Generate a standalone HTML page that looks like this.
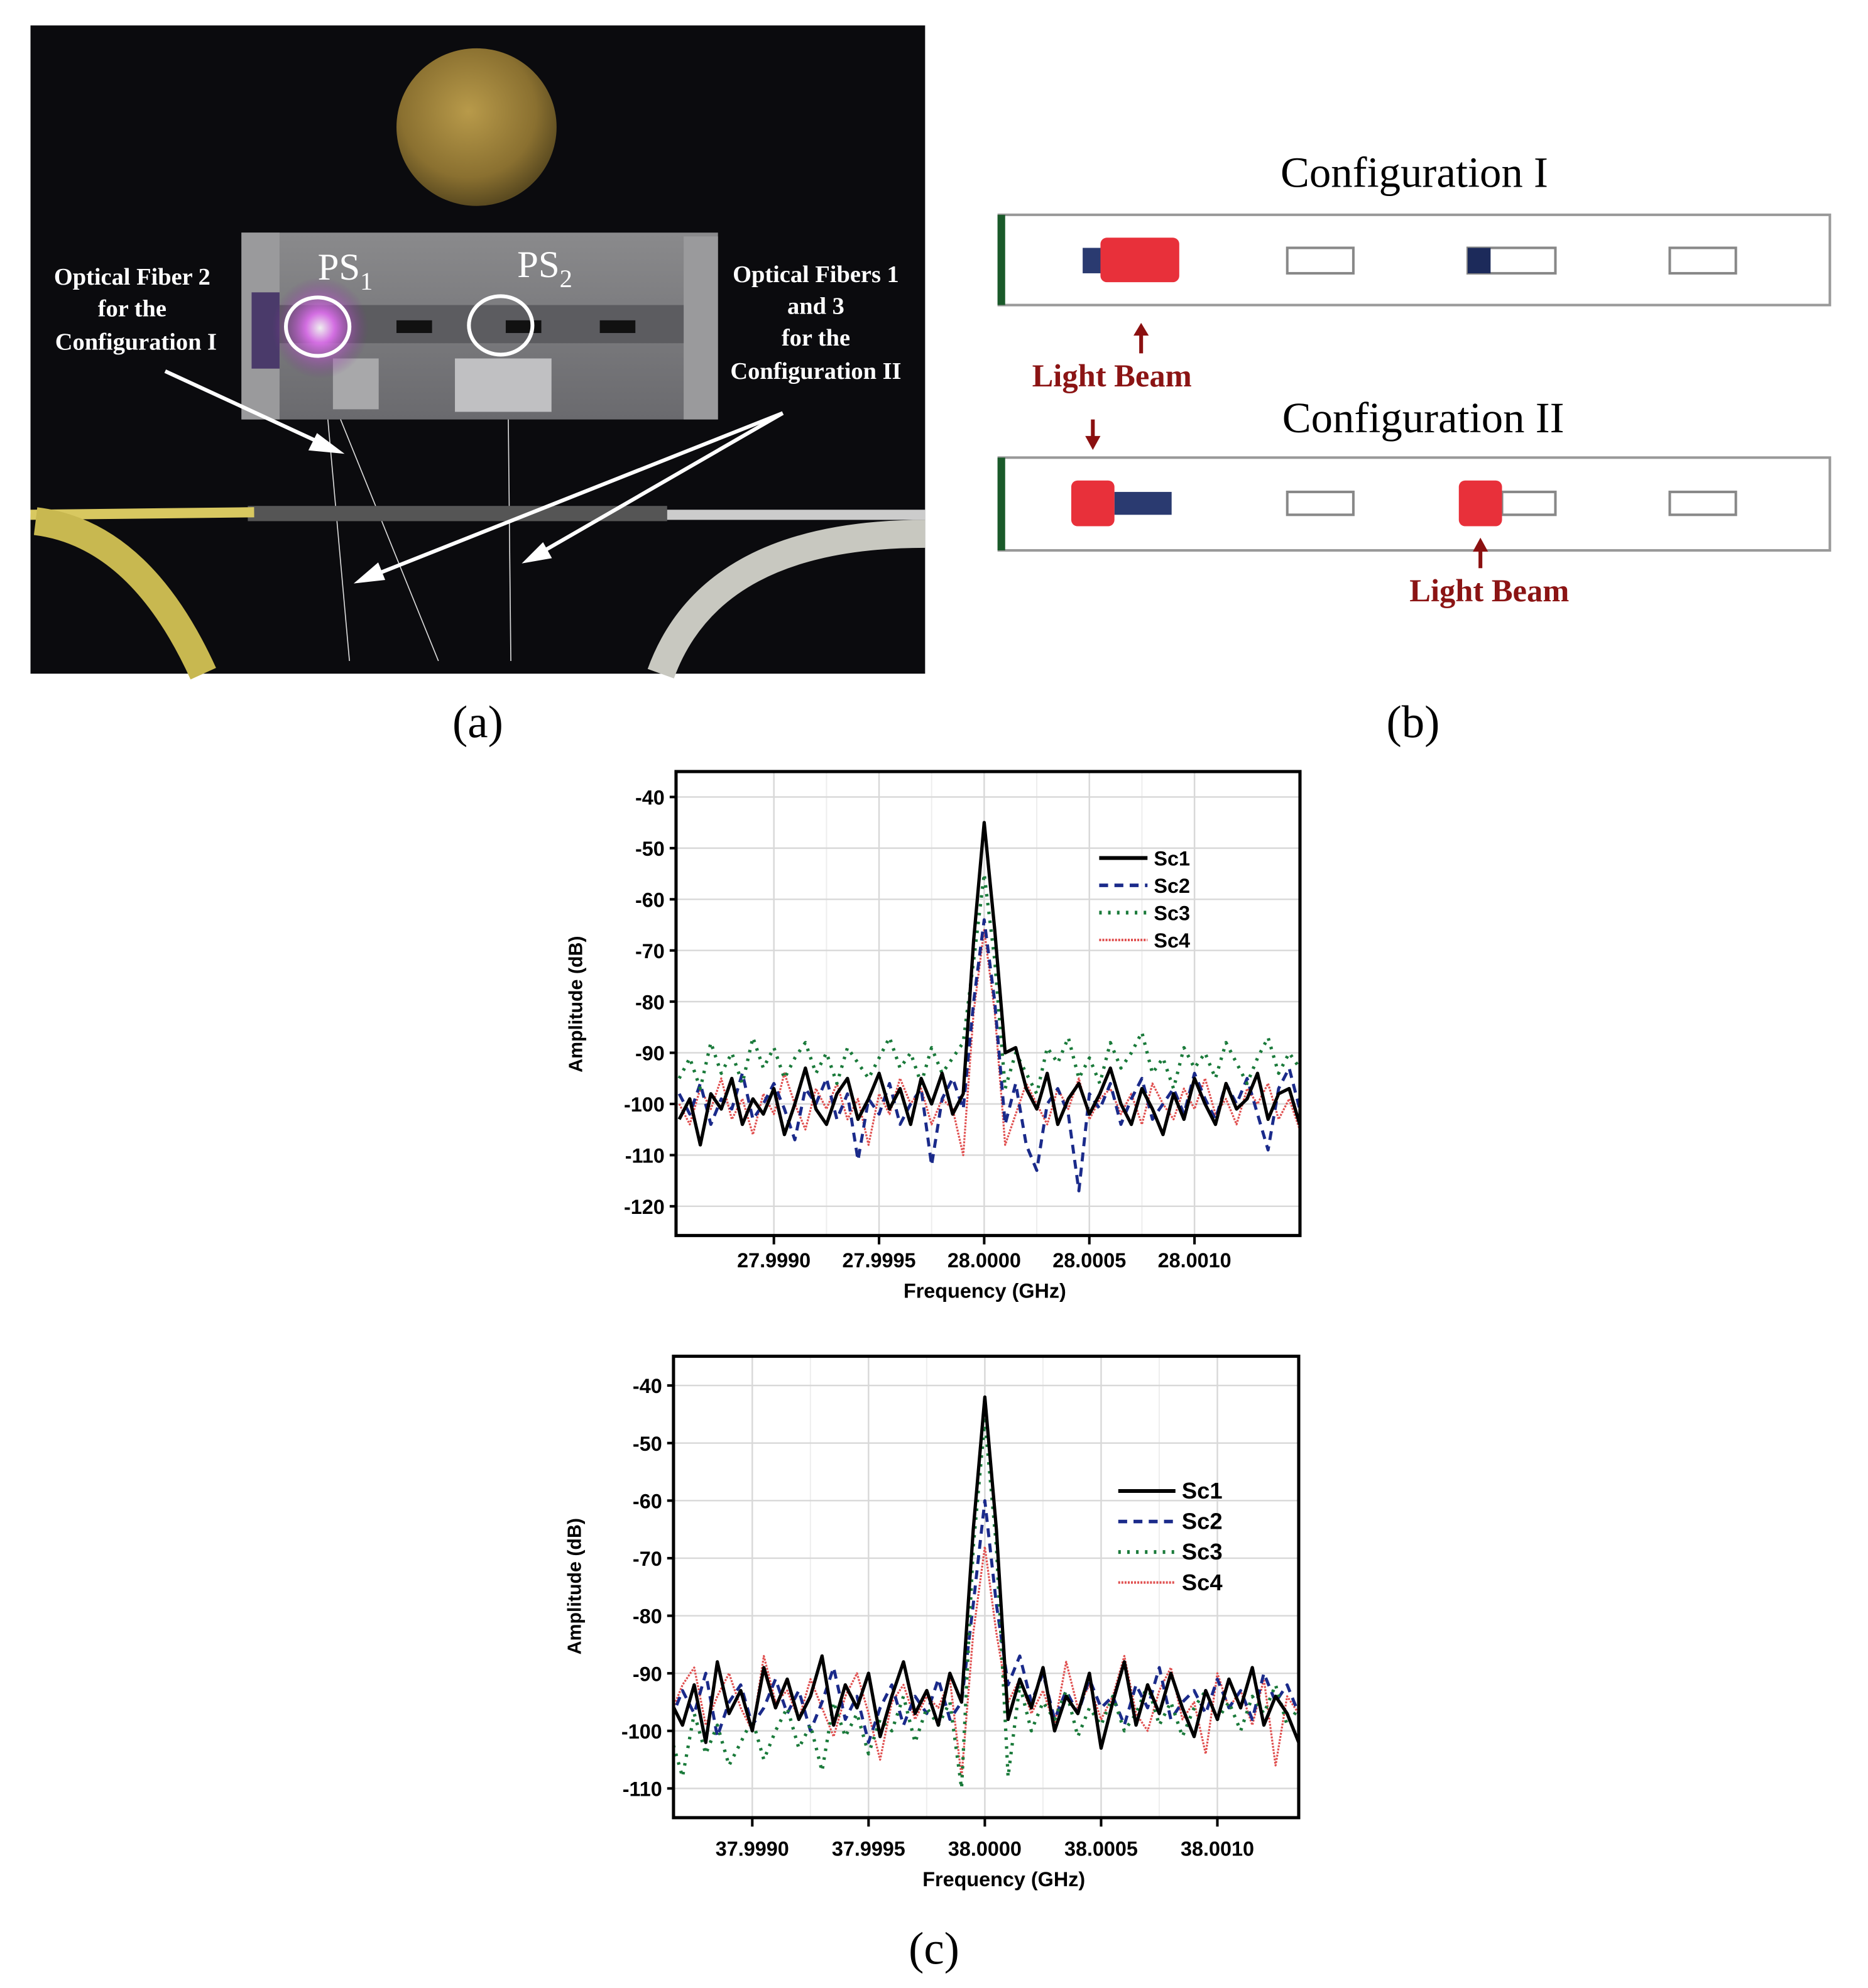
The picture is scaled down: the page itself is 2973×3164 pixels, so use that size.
<!DOCTYPE html>
<html><head><meta charset="utf-8"><style>
html,body{margin:0;padding:0;background:#fff;}
svg{display:block;}
</style></head><body>
<svg id="fig" width="2973" height="3164" viewBox="0 0 1470 1564" preserveAspectRatio="none" xmlns="http://www.w3.org/2000/svg">
<defs>
<radialGradient id="coin" cx="0.45" cy="0.4" r="0.6"><stop offset="0" stop-color="#b89a4a"/><stop offset="0.7" stop-color="#8a7030"/><stop offset="1" stop-color="#5a4a20"/></radialGradient>
<radialGradient id="glow" cx="0.5" cy="0.5" r="0.5"><stop offset="0" stop-color="#fff"/><stop offset="0.3" stop-color="#e070f0"/><stop offset="1" stop-color="#7a2a90" stop-opacity="0"/></radialGradient>
<linearGradient id="plate" x1="0" y1="0" x2="0" y2="1"><stop offset="0" stop-color="#8a8a8c"/><stop offset="1" stop-color="#6a6a6e"/></linearGradient>
<clipPath id="clip1"><rect x="532" y="607" width="491" height="368"/></clipPath>
<clipPath id="clip2"><rect x="530" y="1067" width="492" height="363"/></clipPath>
</defs>

<g>
<rect x="24" y="20" width="704" height="510" fill="#0b0b0e"/>
<ellipse cx="375" cy="100" rx="63" ry="62" fill="url(#coin)"/>
<rect x="190" y="183" width="375" height="147" fill="url(#plate)"/>
<rect x="190" y="183" width="30" height="147" fill="#9a9a9c"/>
<rect x="538" y="186" width="27" height="144" fill="#9a9a9c"/>
<rect x="220" y="240" width="318" height="30" fill="#5c5c60"/>
<rect x="312" y="252" width="28" height="10" fill="#111"/>
<rect x="398" y="252" width="28" height="10" fill="#111"/>
<rect x="472" y="252" width="28" height="10" fill="#111"/>
<rect x="262" y="282" width="36" height="40" fill="#a8a8aa"/>
<rect x="358" y="282" width="76" height="42" fill="#c0c0c2"/>
<rect x="198" y="230" width="22" height="60" fill="#4a3a6a"/>
<ellipse cx="252" cy="258" rx="38" ry="40" fill="url(#glow)" opacity="0.9"/>
<ellipse cx="250" cy="257" rx="25" ry="23" fill="none" stroke="#fff" stroke-width="3"/>
<ellipse cx="394" cy="256" rx="25" ry="23" fill="none" stroke="#fff" stroke-width="3"/>
<text x="250" y="220" font-family="Liberation Serif, serif" font-size="30" fill="#fff">PS<tspan font-size="20" dy="8">1</tspan></text>
<text x="407" y="218" font-family="Liberation Serif, serif" font-size="30" fill="#fff">PS<tspan font-size="20" dy="8">2</tspan></text>
<g font-family="Liberation Serif, serif" font-weight="bold" font-size="19" fill="#fff" text-anchor="middle">
<text x="104" y="224">Optical Fiber 2</text>
<text x="104" y="249">for the</text>
<text x="107" y="275">Configuration I</text>
<text x="642" y="222">Optical Fibers 1</text>
<text x="642" y="247">and 3</text>
<text x="642" y="272">for the</text>
<text x="642" y="298">Configuration II</text>
</g>
<g stroke="#ddd" stroke-width="0.8" fill="none">
<path d="M258 330 L275 520"/><path d="M268 330 L345 520"/><path d="M400 330 L402 520"/>
</g>
<rect x="195" y="398" width="330" height="12" fill="#555"/>
<path d="M24 405 L200 403" stroke="#d8c860" stroke-width="8"/>
<path d="M525 405 L728 405" stroke="#ccc" stroke-width="8"/>
<path d="M28 410 Q110 420 160 530" stroke="#c8b850" stroke-width="22" fill="none"/>
<path d="M728 420 Q560 420 520 530" stroke="#c8c8c0" stroke-width="22" fill="none"/>
<g stroke="#fff" stroke-width="3" fill="#fff">
<path d="M130 292 L260 352"/><path d="M266 355 L250 343 L245 353Z"/>
<path d="M616 325 L288 455"/><path d="M283 457 L297 445 L301 455Z"/>
<path d="M616 325 L420 438"/><path d="M415 441 L427 429 L432 438Z"/>
</g>
</g>
<text x="376" y="580" text-anchor="middle" font-family="Liberation Serif, serif" font-size="36">(a)</text>

<g font-family="Liberation Serif, serif">
<text x="1113" y="147" text-anchor="middle" font-size="34">Configuration I</text>
<rect x="786" y="169" width="654" height="71" fill="#fff" stroke="#999" stroke-width="2"/>
<rect x="785" y="169" width="6" height="71" fill="#1a5a2a"/>
<rect x="852" y="195" width="18" height="20" fill="#2a3a70"/>
<rect x="866" y="187" width="62" height="35" rx="5" fill="#e8303a"/>
<rect x="1013" y="195" width="52" height="20" fill="#fff" stroke="#888" stroke-width="2"/>
<rect x="1155" y="195" width="69" height="20" fill="#fff" stroke="#888" stroke-width="2"/>
<rect x="1155" y="195" width="18" height="20" fill="#1c2a5a"/>
<rect x="1314" y="195" width="52" height="20" fill="#fff" stroke="#888" stroke-width="2"/>
<path d="M898 278 L898 262" stroke="#8b1010" stroke-width="3"/><path d="M892 264 L898 254 L904 264Z" fill="#8b1010"/>
<text x="875" y="304" text-anchor="middle" font-size="25" font-weight="bold" fill="#8b1414">Light Beam</text>
<text x="1120" y="340" text-anchor="middle" font-size="34">Configuration II</text>
<path d="M860 330 L860 345" stroke="#8b1010" stroke-width="3"/><path d="M854 343 L860 354 L866 343Z" fill="#8b1010"/>
<rect x="786" y="360" width="654" height="73" fill="#fff" stroke="#999" stroke-width="2"/>
<rect x="785" y="360" width="6" height="73" fill="#1a5a2a"/>
<rect x="877" y="387" width="45" height="18" fill="#2a3a70"/>
<rect x="843" y="378" width="34" height="36" rx="5" fill="#e8303a"/>
<rect x="1013" y="387" width="52" height="18" fill="#fff" stroke="#888" stroke-width="2"/>
<rect x="1182" y="387" width="42" height="18" fill="#fff" stroke="#888" stroke-width="2"/>
<rect x="1148" y="378" width="34" height="36" rx="5" fill="#e8303a"/>
<rect x="1314" y="387" width="52" height="18" fill="#fff" stroke="#888" stroke-width="2"/>
<path d="M1165 447 L1165 432" stroke="#8b1010" stroke-width="3"/><path d="M1159 434 L1165 423 L1171 434Z" fill="#8b1010"/>
<text x="1172" y="473" text-anchor="middle" font-size="25" font-weight="bold" fill="#8b1414">Light Beam</text>
</g>
<text x="1112" y="580" text-anchor="middle" font-family="Liberation Serif, serif" font-size="36">(b)</text>
<text x="735" y="1545" text-anchor="middle" font-family="Liberation Serif, serif" font-size="36">(c)</text>

<g id="chart1"></g>
<g id="chart2"></g>
</svg>
<script>
// Chart 1: 28 GHz (offsets in kHz from 28.0000 GHz)
const c1Start = -1450, c1Step = 50;
const c1Sc1 = [-103,-99,-108,-98,-101,-95,-104,-99,-102,-97,-106,-100,-93,-101,-104,-98,-95,-103,-99,-94,-101,-97,-104,-95,-100,-94,-102,-98,-68,-45,-66,-90,-89,-97,-101,-94,-104,-99,-96,-102,-98,-93,-100,-104,-97,-101,-106,-98,-103,-95,-100,-104,-96,-101,-99,-94,-103,-98,-97,-104,-100,-102];
const c1Sc2 = [-98,-102,-96,-104,-99,-101,-94,-103,-100,-96,-101,-107,-97,-100,-95,-103,-98,-111,-99,-102,-96,-104,-100,-97,-112,-99,-95,-101,-80,-64,-80,-104,-96,-108,-113,-100,-97,-102,-117,-98,-101,-96,-104,-99,-95,-103,-100,-97,-102,-94,-99,-103,-96,-100,-95,-102,-109,-97,-93,-101,-98,-96];
const c1Sc3 = [-95,-91,-97,-88,-94,-90,-96,-87,-93,-89,-95,-91,-88,-94,-90,-96,-89,-92,-95,-91,-87,-93,-90,-96,-89,-94,-91,-88,-72,-55,-72,-97,-90,-94,-98,-89,-92,-87,-95,-91,-96,-88,-93,-90,-86,-94,-91,-97,-89,-93,-90,-95,-88,-92,-96,-91,-87,-94,-90,-93,-89,-84];
const c1Sc4 = [-100,-104,-97,-101,-95,-103,-99,-106,-98,-102,-94,-100,-105,-97,-101,-96,-103,-99,-108,-98,-102,-95,-100,-97,-104,-99,-101,-110,-82,-66,-82,-108,-102,-96,-100,-104,-97,-101,-95,-103,-99,-97,-102,-98,-104,-96,-100,-103,-97,-101,-95,-102,-99,-104,-97,-100,-96,-103,-99,-105,-98,-100];
const c1YTicks = [-40,-50,-60,-70,-80,-90,-100,-110,-120];
const c1XTicks = [-1000,-500,0,500,1000];
const c1XLabels = ["27.9990","27.9995","28.0000","28.0005","28.0010"];
// Chart 2: 38 GHz
const c2Start = -1350, c2Step = 50;
const c2Sc1 = [-95,-99,-92,-102,-88,-97,-93,-100,-89,-96,-91,-98,-94,-87,-99,-92,-96,-90,-101,-94,-88,-97,-93,-99,-90,-95,-65,-42,-65,-98,-91,-96,-89,-100,-94,-97,-90,-103,-95,-88,-99,-92,-97,-90,-96,-101,-93,-98,-91,-96,-89,-99,-94,-97,-102];
const c2Sc2 = [-98,-93,-97,-90,-101,-95,-92,-99,-96,-91,-97,-93,-100,-95,-89,-98,-94,-102,-96,-92,-99,-94,-97,-91,-98,-95,-78,-60,-78,-92,-87,-95,-90,-98,-93,-97,-91,-96,-94,-99,-92,-96,-89,-98,-95,-93,-97,-91,-96,-93,-98,-90,-95,-92,-97];
const c2Sc3 = [-101,-108,-97,-104,-99,-106,-102,-98,-105,-100,-96,-103,-99,-107,-95,-101,-97,-104,-98,-100,-94,-102,-96,-99,-95,-110,-68,-46,-68,-108,-92,-100,-95,-98,-93,-101,-96,-99,-94,-100,-97,-92,-99,-95,-101,-96,-93,-98,-95,-100,-94,-97,-92,-99,-96];
const c2Sc4 = [-97,-92,-89,-99,-94,-90,-96,-100,-87,-95,-93,-98,-91,-96,-101,-94,-90,-97,-105,-95,-92,-98,-94,-96,-91,-108,-83,-68,-83,-95,-91,-97,-93,-99,-88,-96,-92,-98,-94,-87,-97,-100,-93,-89,-98,-95,-104,-90,-96,-93,-99,-91,-106,-94,-97];
const c2YTicks = [-40,-50,-60,-70,-80,-90,-100,-110];
const c2XTicks = [-1000,-500,0,500,1000];
const c2XLabels = ["37.9990","37.9995","38.0000","38.0005","38.0010"];
const seriesNames = ["Sc1","Sc2","Sc3","Sc4"];

const NS = "http://www.w3.org/2000/svg";
function mk(parent, tag, attrs, txt){
  const e = document.createElementNS(NS, tag);
  for (const k in attrs) e.setAttribute(k, attrs[k]);
  if (txt !== undefined) e.textContent = txt;
  parent.appendChild(e);
  return e;
}
const styles = [
  {stroke:"#000", w:2.6, dash:""},
  {stroke:"#1a2a8a", w:2.4, dash:"7,5"},
  {stroke:"#1a7a3a", w:2.6, dash:"2,5"},
  {stroke:"#e05050", w:1.6, dash:"1.5,1"}
];

function draw(g, cfg){
  const xs = v => cfg.x0 + (v - cfg.xa) / (cfg.xb - cfg.xa) * (cfg.x1 - cfg.x0);
  const ys = v => cfg.y0 + (v - cfg.ya) / (cfg.yb - cfg.ya) * (cfg.y1 - cfg.y0);
  const L = cfg.box;
  for (let i = 0; i < cfg.xticks.length - 1; i++) {
    const m = (cfg.xticks[i] + cfg.xticks[i+1]) / 2;
    const ln = mk(g, "line", {x1:xs(m), x2:xs(m), y1:L.t, y2:L.b, stroke:"#eee", "stroke-width":1});
    
    
  }
  cfg.xticks.forEach(t => {
    const ln = mk(g, "line", {x1:xs(t), x2:xs(t), y1:L.t, y2:L.b, stroke:"#d8d8d8", "stroke-width":1.2});
    
    
  });
  cfg.yticks.forEach(t => {
    const ln = mk(g, "line", {x1:L.l, x2:L.r, y1:ys(t), y2:ys(t), stroke:"#d8d8d8", "stroke-width":1.2});
    
    
    const tk = mk(g, "line", {x1:L.l-5, x2:L.l, y1:ys(t), y2:ys(t), stroke:"#000", "stroke-width":2});
    
    
    const tx = mk(g, "text", {x:L.l-9, y:ys(t)+6, "text-anchor":"end", "font-family":"Liberation Sans, sans-serif", "font-size":16, "font-weight":"bold"}, String(t));
    
    
  });
  cfg.xticks.forEach((t, i) => {
    const tk = mk(g, "line", {x1:xs(t), x2:xs(t), y1:L.b, y2:L.b+7, stroke:"#000", "stroke-width":2});
    
    
    const tx = mk(g, "text", {x:xs(t), y:cfg.tickY, "text-anchor":"middle", "font-family":"Liberation Sans, sans-serif", "font-size":16, "font-weight":"bold"}, cfg.xlabels[i]);
    
    
  });
  const plot = mk(g, "g", {"clip-path":cfg.clip});
  
  
  [3,1,2,0].forEach(si => {
    const arr = cfg.series[si];
    const pts = arr.map((v, i) => xs(cfg.start + i*cfg.step).toFixed(1) + "," + ys(v).toFixed(1)).join(" ");
    const st = styles[si];
    const pl = mk(plot, "polyline", {points:pts, fill:"none", stroke:st.stroke, "stroke-width":st.w, "stroke-dasharray":st.dash, "stroke-linejoin":"round"});
    
    
  });
  const frame = mk(g, "rect", {x:L.l, y:L.t, width:L.r-L.l, height:L.b-L.t, fill:"none", stroke:"#000", "stroke-width":2.5});
  
  
  const xt = mk(g, "text", {x:cfg.xTitleX, y:cfg.xTitleY, "text-anchor":"middle", "font-family":"Liberation Sans, sans-serif", "font-size":16, "font-weight":"bold"}, "Frequency (GHz)");
  
  
  const yt = mk(g, "text", {x:0, y:0, transform:"translate(" + cfg.yTitleX + "," + cfg.yTitleY + ") rotate(-90)", "text-anchor":"middle", "font-family":"Liberation Sans, sans-serif", "font-size":15, "font-weight":"bold"}, "Amplitude (dB)");
  
  
  seriesNames.forEach((n, i) => {
    const y = cfg.leg.y + i*cfg.leg.dy;
    const st = styles[i];
    const lg = mk(g, "g", {});
    
    
    mk(lg, "line", {x1:cfg.leg.x, x2:cfg.leg.x+cfg.leg.w, y1:y, y2:y, stroke:st.stroke, "stroke-width":st.w+0.4, "stroke-dasharray":st.dash});
    mk(lg, "text", {x:cfg.leg.x+cfg.leg.w+5, y:y+6, "font-family":"Liberation Sans, sans-serif", "font-size":cfg.leg.fs, "font-weight":"bold"}, n);
  });
}

draw(document.getElementById("chart1"), {
  xa:-1000, xb:1000, x0:609, x1:940, ya:-40, yb:-120, y0:627, y1:949,
  box:{l:532, r:1023, t:607, b:972}, clip:"url(#clip1)",
  start:c1Start, step:c1Step, series:[c1Sc1,c1Sc2,c1Sc3,c1Sc4],
  xticks:c1XTicks, xlabels:c1XLabels, yticks:c1YTicks, tickY:997,
  xTitleX:775, xTitleY:1021, yTitleX:458, yTitleY:790,
  leg:{x:865, w:38, y:675, dy:21.5, fs:16}
});
draw(document.getElementById("chart2"), {
  xa:-1000, xb:1000, x0:592, x1:958, ya:-40, yb:-110, y0:1090, y1:1407,
  box:{l:530, r:1022, t:1067, b:1430}, clip:"url(#clip2)",
  start:c2Start, step:c2Step, series:[c2Sc1,c2Sc2,c2Sc3,c2Sc4],
  xticks:c2XTicks, xlabels:c2XLabels, yticks:c2YTicks, tickY:1460,
  xTitleX:790, xTitleY:1484, yTitleX:457, yTitleY:1248,
  leg:{x:880, w:45, y:1173, dy:24, fs:18}
});
</script>
</body></html>
